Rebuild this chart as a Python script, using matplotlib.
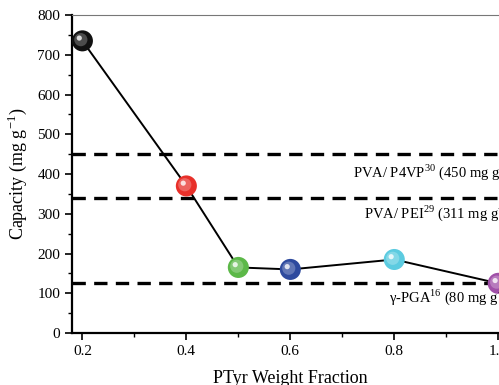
import numpy as np
import matplotlib.pyplot as plt
from matplotlib.ticker import MultipleLocator

plt.rcParams['font.family'] = ['Liberation Serif', 'DejaVu Serif']
plt.rcParams['mathtext.fontset'] = 'custom'
plt.rcParams['mathtext.rm'] = 'Liberation Serif'

frac = np.array([0.2, 0.4, 0.5, 0.6, 0.8, 1.0])
capacity = np.array([735, 370, 165, 160, 185, 125])
colors = ['#111111', '#e8302a', '#5cb848', '#2e4a9e', '#5ccbe0', '#a050a8']

ref_levels = [450, 340, 125]
ref_labels = [r'PVA/ P4VP$^{\mathrm{30}}$ (450 mg g$^{\mathrm{-1}}$)',
              r'PVA/ PEI$^{\mathrm{29}}$ (311 mg g$^{\mathrm{-1}}$)',
              r'γ-PGA$^{\mathrm{16}}$ (80 mg g$^{\mathrm{-1}}$)']
label_x = [0.72, 0.741, 0.79]
label_y = [405, 302, 90]

fig = plt.figure(figsize=(4.99, 3.85), dpi=100)
ax = fig.add_axes([0.1443, 0.135, 0.875, 0.826])

for lv in ref_levels:
    ax.axhline(lv, color='black', lw=2.4, ls=(0, (4, 2.5)), zorder=1)

ax.plot(frac, capacity, color='black', lw=1.4, zorder=2)

# shaded balls
for xi, yi, c in zip(frac, capacity, colors):
    ax.scatter(xi, yi, s=230, color=c, edgecolor='none', zorder=3)
    ax.scatter(xi - 0.003, yi + 3, s=90, color='white', alpha=0.25, edgecolor='none', zorder=4)
    ax.scatter(xi - 0.006, yi + 7, s=14, color='white', alpha=0.8, edgecolor='none', zorder=5)

for t, xl, yl in zip(ref_labels, label_x, label_y):
    ax.text(xl, yl, t, fontsize=10.5, va='center', ha='left')

ax.set_xlim(0.18, 1.02)
ax.set_ylim(0, 800)
ax.xaxis.set_major_locator(MultipleLocator(0.2))
ax.xaxis.set_minor_locator(MultipleLocator(0.1))
ax.yaxis.set_major_locator(MultipleLocator(100))
ax.yaxis.set_minor_locator(MultipleLocator(50))
ax.set_xticks([0.2, 0.4, 0.6, 0.8, 1.0])
ax.set_xticklabels(['0.2', '0.4', '0.6', '0.8', '1.0'])
ax.tick_params(which='major', direction='out', length=5, width=1.2, labelsize=11)
ax.tick_params(which='minor', direction='out', length=3, width=1.0)

for s in ['left', 'bottom']:
    ax.spines[s].set_linewidth(1.6)
ax.spines['top'].set_linewidth(0.8)
ax.spines['top'].set_color('#777777')
ax.spines['right'].set_visible(False)

ax.set_xlabel('PTyr Weight Fraction', fontsize=13, labelpad=9)
ax.set_ylabel(r'Capacity (mg g$^{\mathrm{-1}}$)', fontsize=13, labelpad=6)

fig.savefig('out.png', dpi=100)
